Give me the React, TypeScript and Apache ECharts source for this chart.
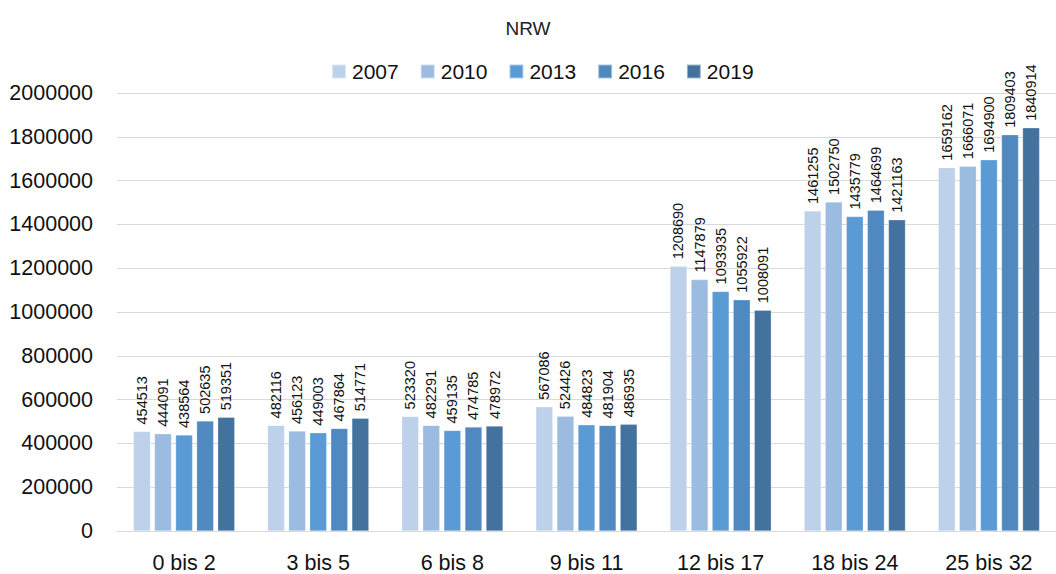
import React, { useEffect, useRef } from "react";
import * as echarts from "echarts";

const categories = ["0 bis 2", "3 bis 5", "6 bis 8", "9 bis 11", "12 bis 17", "18 bis 24", "25 bis 32"];
const years = ["2007", "2010", "2013", "2016", "2019"];
const v2007 = [454513, 482116, 523320, 567086, 1208690, 1461255, 1659162];
const v2010 = [444091, 456123, 482291, 524426, 1147879, 1502750, 1666071];
const v2013 = [438564, 449003, 459135, 484823, 1093935, 1435779, 1694900];
const v2016 = [502635, 467864, 474785, 481904, 1055922, 1464699, 1809403];
const v2019 = [519351, 514771, 478972, 486935, 1008091, 1421163, 1840914];
const colors = ["#bdd1ea", "#9bbbe0", "#5b9bd5", "#4f89bf", "#43729f"];

export default function App() {
  const ref = useRef<HTMLDivElement>(null);
  useEffect(() => {
    const chart = echarts.init(ref.current!, undefined, { renderer: "svg" });
    const all = [v2007, v2010, v2013, v2016, v2019];
    const font = "Liberation Sans, Arial, sans-serif";
    chart.setOption({
      animation: false,
      title: {
        text: "NRW",
        left: "center",
        top: 14,
        textStyle: { fontFamily: font, fontSize: 19, fontWeight: "normal", color: "#222" },
      },
      legend: {
        top: 56,
        left: 326,
        itemWidth: 14,
        itemHeight: 14,
        itemGap: 21,
        icon: "rect",
        textStyle: { fontFamily: font, fontSize: 21, color: "#111", padding: [0, 0, 0, 1] },
        data: years,
      },
      grid: { left: 117, right: -7, top: 93, bottom: 41, containLabel: false },
      xAxis: {
        type: "category",
        data: categories,
        axisTick: { show: false },
        axisLine: { lineStyle: { color: "#d9d9d9" } },
        axisLabel: { fontFamily: font, fontSize: 21.5, color: "#111", margin: 21 },
      },
      yAxis: {
        type: "value",
        min: 0,
        max: 2000000,
        interval: 200000,
        axisLabel: {
          fontFamily: font,
          fontSize: 21.5,
          color: "#111",
          margin: 24,
          formatter: (v: number) => String(v),
        },
        splitLine: { lineStyle: { color: "#d9d9d9" } },
        axisLine: { show: false },
        axisTick: { show: false },
      },
      series: years.map((y, i) => ({
        name: y,
        type: "bar",
        data: all[i],
        barWidth: 17,
        barGap: "24%",
        itemStyle: { color: colors[i], borderColor: "rgba(255,255,255,0.5)", borderWidth: 0.5 },
        label: {
          show: true,
          position: "top",
          rotate: 90,
          align: "left",
          verticalAlign: "middle",
          distance: 7,
          fontFamily: font,
          fontSize: 14.5,
          color: "#111",
        },
      })),
    });
    return () => chart.dispose();
  }, []);
  return (
    <div
      ref={ref}
      style={{ position: "fixed", left: 0, top: 0, width: 1056, height: 574, background: "#fff" }}
    />
  );
}
